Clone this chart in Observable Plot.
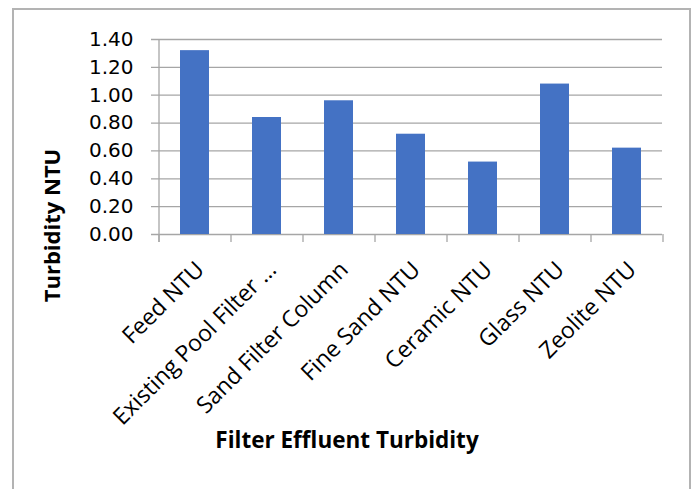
<!DOCTYPE html>
<html><head><meta charset="utf-8">
<script src="https://cdn.jsdelivr.net/npm/d3@7"></script>
<script src="https://cdn.jsdelivr.net/npm/@observablehq/plot@0.6"></script>
<style>
html,body{margin:0;padding:0;background:#fff;}
#wrap{position:relative;width:694px;height:489px;overflow:hidden;}
#border{position:absolute;left:12px;top:8px;width:679px;height:520px;border:2px solid #b3b3b3;box-sizing:border-box;}
#chart{position:absolute;left:0;top:0;}
</style></head><body>
<div id="wrap"><div id="border"></div><div id="chart"></div></div>
<script>
const categories = ["Feed NTU", "Existing Pool Filter …", "Sand Filter Column", "Fine Sand NTU", "Ceramic NTU", "Glass NTU", "Zeolite NTU"];
const turbidity = [1.32, 0.84, 0.96, 0.72, 0.52, 1.08, 0.62];
const yTicks = [0, 0.2, 0.4, 0.6, 0.8, 1.0, 1.2, 1.4];
const xTitle = "Filter Effluent Turbidity";
const yTitle = "Turbidity NTU";

const data = categories.map((c, i) => ({category: c, value: turbidity[i]}));

const W = 694, H = 489, mL = 158, mR = 32, mT = 39, mB = 255;
const step = (W - mL - mR) / categories.length;
const yMax = 1.4;
const tickExt = 8 * yMax / (H - mT - mB);
const gridColor = "#a6a6a6";
const font = "'Open Sans', sans-serif";

const chart = Plot.plot({
  width: W, height: H,
  marginLeft: mL, marginRight: mR, marginTop: mT, marginBottom: mB,
  style: {fontFamily: font, fontSize: "22px", color: "#000", background: "transparent", overflow: "visible"},
  x: {domain: categories, paddingInner: 0.6, paddingOuter: 0.3, axis: null},
  y: {domain: [0, yMax], axis: null},
  marks: [
    Plot.ruleY(yTicks, {stroke: gridColor, strokeWidth: 1.3, insetLeft: -7}),
    Plot.barY(data, {x: "category", y: "value", fill: "#4472C4"}),
    Plot.ruleX([categories[0]], {dx: -step / 2, y1: -tickExt, y2: yMax, stroke: gridColor, strokeWidth: 1.3}),
    Plot.ruleX(categories, {dx: -step / 2, y1: 0, y2: -tickExt, stroke: gridColor, strokeWidth: 1.3}),
    Plot.ruleX([categories[categories.length - 1]], {dx: step / 2, y1: 0, y2: -tickExt, stroke: gridColor, strokeWidth: 1.3}),
    Plot.axisY(yTicks, {label: null, tickSize: 0, tickPadding: 25, tickFormat: d3.format(".2f"), fontSize: 20, fontFamily: "'DejaVu Sans', sans-serif"}),
    Plot.text(categories, {x: d => d, frameAnchor: "bottom", rotate: -45, textAnchor: "end", lineAnchor: "top", dx: -1, dy: 25, fontSize: 23}),
    Plot.text([xTitle], {frameAnchor: "bottom", dx: -63.5, dy: 206, lineAnchor: "middle", textAnchor: "middle", fontWeight: "bold", fontSize: 22.5}),
    Plot.text([yTitle], {frameAnchor: "left", dx: -106, dy: 88.5, rotate: -90, lineAnchor: "middle", textAnchor: "middle", fontWeight: "bold", fontSize: 22})
  ]
});
document.getElementById("chart").appendChild(chart);
</script>
</body></html>
